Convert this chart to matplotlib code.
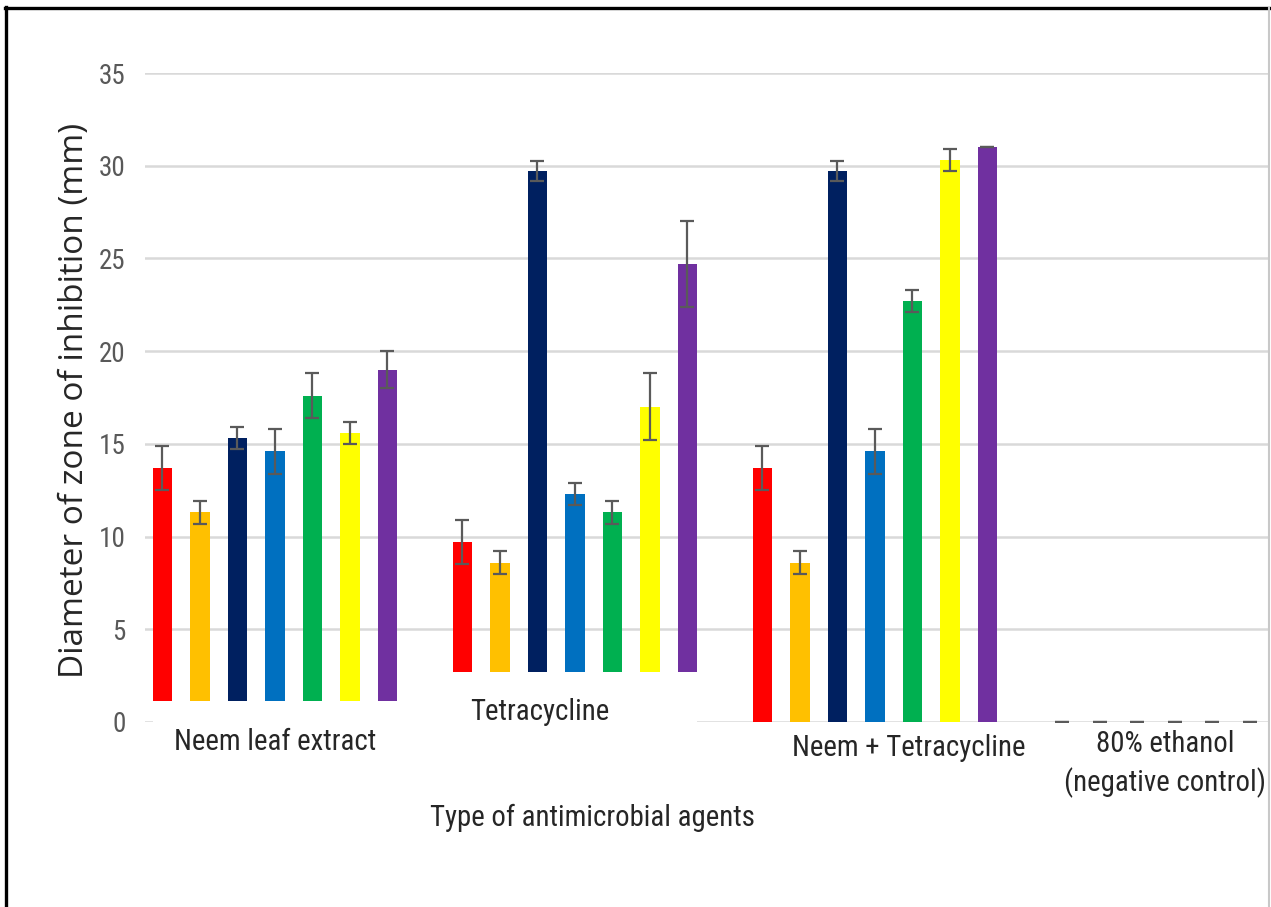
import matplotlib
matplotlib.use("Agg")
import matplotlib.pyplot as plt
from matplotlib import font_manager
from matplotlib.patches import Rectangle
from matplotlib.lines import Line2D
import numpy as np

# ---- data -------------------------------------------------------------
agents = ["Neem leaf extract", "Tetracycline", "Neem + Tetracycline",
          "80% ethanol\n(negative control)"]
series_colors = ["#FF0000", "#FFC000", "#002060", "#0070C0",
                 "#00B050", "#FFFF00", "#7030A0"]

neem_mean = [13.7, 11.3, 15.3, 14.6, 17.6, 15.6, 19.0]
neem_err = [1.2, 0.6, 0.6, 1.2, 1.2, 0.6, 1.0]
tetra_mean = [9.7, 8.6, 29.7, 12.3, 11.3, 17.0, 24.7]
tetra_err = [1.2, 0.6, 0.55, 0.6, 0.6, 1.8, 2.3]
combo_mean = [13.7, 8.6, 29.7, 14.6, 22.7, 30.3, 31.0]
combo_err = [1.2, 0.6, 0.55, 1.2, 0.6, 0.6, 0.0]
ethanol_mean = [0, 0, 0, 0, 0, 0, 0]
ethanol_err = [0, 0, 0, 0, 0, 0, 0]

y_ticks = [0, 5, 10, 15, 20, 25, 30, 35]

# label boxes that sit over the foot of the first two groups
neem_box_top = 1.13
tetra_box_top = 2.7


def pick_font(*names):
    available = {f.name for f in font_manager.fontManager.ttflist}
    for n in names:
        if n in available:
            return n
    return "DejaVu Sans"


narrow = pick_font("Liberation Sans Narrow", "Roboto Condensed", "Lato")
wide = pick_font("Open Sans", "Noto Sans", "DejaVu Sans")

means = np.array([neem_mean, tetra_mean, combo_mean, ethanol_mean], dtype=float)
errs = np.array([neem_err, tetra_err, combo_err, ethanol_err], dtype=float)

W, H = 1271, 907
fig = plt.figure(figsize=(W / 100, H / 100), dpi=100)
ax = fig.add_axes([145 / W, (H - 722) / H, (1268 - 145) / W, (722 - 73) / H])

step = 0.125
width = 0.064
n_series = means.shape[1]
x = np.arange(len(agents))
for i in range(n_series):
    pos = x + (i - (n_series - 1) / 2) * step
    ax.bar(pos, means[:, i], width=width, color=series_colors[i], zorder=2)
    ax.errorbar(pos, means[:, i], yerr=errs[:, i], fmt="none",
                ecolor="#5a5a5a", elinewidth=1.6, capsize=5, capthick=1.6,
                zorder=3)

half = (n_series - 1) / 2 * step + width / 2
ax.add_patch(Rectangle((0 - half, -0.8), 0.5 + half, neem_box_top + 0.8,
                       facecolor="white", edgecolor="none", zorder=4,
                       clip_on=False))
ax.add_patch(Rectangle((0.5, -0.8), 0.5 + half, tetra_box_top + 0.8,
                       facecolor="white", edgecolor="none", zorder=4,
                       clip_on=False))

ax.set_xlim(-0.4333, 3.31)
ax.set_ylim(0, 35)
ax.set_yticks(y_ticks)
ax.set_yticklabels([str(t) for t in y_ticks], fontfamily=narrow,
                   fontsize=19.5, color="#595959")
ax.tick_params(axis="y", length=0, pad=14)
ax.set_xticks([])
ax.yaxis.grid(True, color="#d9d9d9", linewidth=1.8)
ax.set_axisbelow(True)
for s in ax.spines.values():
    s.set_visible(False)

# category names and axis titles
lab = dict(fontfamily=narrow, fontsize=20.8, color="#262626",
           ha="center", va="center", zorder=6)
fig.text(275 / W, 1 - 742 / H, agents[0], **lab)
fig.text(540 / W, 1 - 712 / H, agents[1], **lab)
fig.text(909 / W, 1 - 748 / H, agents[2], **lab)
fig.text(1165 / W, 1 - 764 / H, agents[3], linespacing=1.4, **lab)
fig.text(592 / W, 1 - 818 / H, "Type of antimicrobial agents", **lab)
fig.text(75 / W, 1 - 400 / H, "Diameter of zone of inhibition (mm)",
         fontfamily=wide, fontsize=24, color="#262626", rotation=90,
         ha="center", va="center")

# outer frame
fig.add_artist(Line2D([6 / W, 6 / W], [0, 1 - 7 / H], color="black", lw=2.4))
fig.add_artist(Line2D([5 / W, 1], [1 - 7.5 / H, 1 - 7.5 / H], color="black", lw=2.4))
fig.add_artist(Line2D([1269 / W, 1269 / W], [0, 1 - 8 / H], color="#c8c8c8", lw=1.5))

fig.savefig("out.png", dpi=100)
